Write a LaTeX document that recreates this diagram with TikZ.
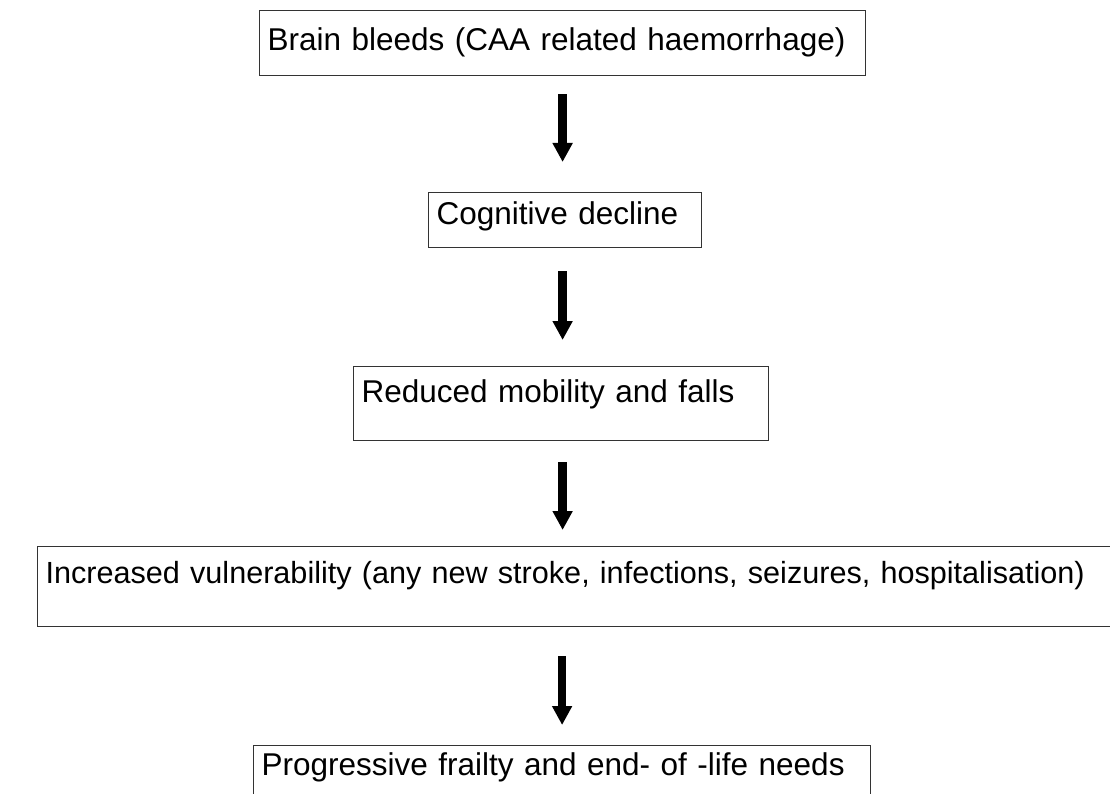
\documentclass[tikz,border=0pt]{standalone}
\usepackage{fontspec}
\setmainfont{Liberation Sans}
\usepackage{tikz}
\usetikzlibrary{shapes,arrows.meta,positioning}
\newcommand{\stagefont}{\fontsize{31.5}{38}\selectfont}
\tikzstyle{stage} = [draw=black!80, line width=1.2pt, rectangle, anchor=north west,
    inner xsep=8pt, inner ysep=0pt, align=left, font=\stagefont]
\tikzstyle{flow} = [-{Triangle[width=19pt,length=19pt]}, line width=8.5pt, black]

\begin{document}
\begin{tikzpicture}[x=1pt, y=-1pt]
  \useasboundingbox (0,0) rectangle (1110,794);
  \node [stage, text width=590pt, text height=40pt, text depth=25pt]
  (b1) at (259,10) {Brain bleeds (CAA related haemorrhage)};
  \node [stage, text width=257pt, text height=32pt, text depth=23pt]
  (b2) at (428,192) {Cognitive decline};
  \node [stage, text width=399pt, text height=36pt, text depth=38pt]
  (b3) at (353,366) {Reduced mobility and falls};
  \node [stage, font=\fontsize{30.6}{37}\selectfont, text width=1110pt, text height=37pt, text depth=43pt]
  (b4) at (37,546) {Increased vulnerability (any new stroke, infections, seizures, hospitalisation)};
  \node [stage, text width=601pt, text height=30pt, text depth=30pt]
  (b5) at (253,745) {Progressive frailty and end- of -life needs};
  \draw [flow, shorten <=18pt, shorten >=30pt] (b1.south) -- (b2.north -| b1.south);
  \draw [flow, shorten <=23pt, shorten >=26pt] (b2.south -| b1.south) -- (b3.north -| b1.south);
  \draw [flow, shorten <=21pt, shorten >=16pt] (b3.south -| b1.south) -- (b4.north -| b1.south);
  \draw [flow, shorten <=29pt, shorten >=20pt] (b4.south -| b5.north) -- (b5.north);
\end{tikzpicture}
\end{document}
